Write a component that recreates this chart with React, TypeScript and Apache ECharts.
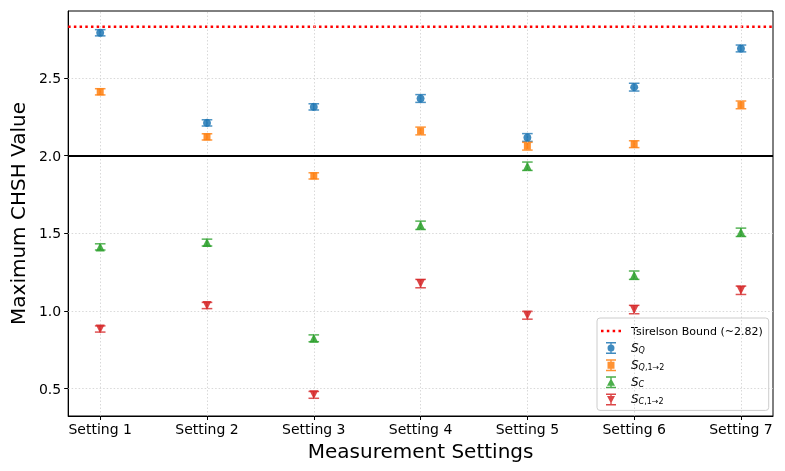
import React, { useEffect, useRef } from "react";
import * as echarts from "echarts";

const categories = ["Setting 1", "Setting 2", "Setting 3", "Setting 4", "Setting 5", "Setting 6", "Setting 7"];
const xTicks = [0, 1, 2, 3, 4, 5, 6];
const yTicks = [0.5, 1.0, 1.5, 2.0, 2.5];

const sQ = [2.79, 2.21, 2.313, 2.367, 2.116, 2.44, 2.689];
const sQErr = [0.02, 0.02, 0.02, 0.025, 0.025, 0.025, 0.022];
const sQ12 = [2.41, 2.12, 1.869, 2.158, 2.06, 2.073, 2.326];
const sQ12Err = [0.02, 0.02, 0.02, 0.025, 0.025, 0.022, 0.025];
const sC = [1.412, 1.44, 0.824, 1.551, 1.931, 1.23, 1.506];
const sCErr = [0.02, 0.022, 0.022, 0.027, 0.027, 0.027, 0.027];
const sC12 = [0.884, 1.035, 0.46, 1.176, 0.972, 1.009, 1.133];
const sC12Err = [0.02, 0.02, 0.022, 0.027, 0.025, 0.027, 0.027];

const tsirelson = 2.828;
const classicalBound = 2.0;

const seriesDefs = [
  { name: "S_Q", values: sQ, errs: sQErr, color: "#1f77b4", symbol: "circle", size: 8, rotate: 0, label: "{i|S}{si|Q}",
    icon: "path://M0,0H10V1.5H0Z M4.3,0H5.7V12H4.3Z M0,10.5H10V12H0Z M8.5,6A3.5,3.5 0 1 1 1.5,6A3.5,3.5 0 1 1 8.5,6Z" },
  { name: "S_{Q,1→2}", values: sQ12, errs: sQ12Err, color: "#ff7f0e", symbol: "rect", size: 7, rotate: 0, label: "{i|S}{si|Q}{s|,1→2}",
    icon: "path://M0,0H10V1.5H0Z M4.3,0H5.7V12H4.3Z M0,10.5H10V12H0Z M1.5,2.5H8.5V9.5H1.5Z" },
  { name: "S_C", values: sC, errs: sCErr, color: "#2ca02c", symbol: "triangle", size: 9, rotate: 0, label: "{i|S}{si|C}",
    icon: "path://M0,0H10V1.5H0Z M4.3,0H5.7V12H4.3Z M0,10.5H10V12H0Z M5,2L9,9.5H1Z" },
  { name: "S_{C,1→2}", values: sC12, errs: sC12Err, color: "#d62728", symbol: "triangle", size: 9, rotate: 180, label: "{i|S}{si|C}{s|,1→2}",
    icon: "path://M0,0H10V1.5H0Z M4.3,0H5.7V12H4.3Z M0,10.5H10V12H0Z M1,2.5H9L5,10Z" },
];

const dottedIcon = "path://M0,0H2.5V2.5H0Z M5.8,0H8.3V2.5H5.8Z M11.6,0H14.1V2.5H11.6Z M17.4,0H19.9V2.5H17.4Z";

export default function App() {
  const ref = useRef<HTMLDivElement>(null);
  useEffect(() => {
    if (!ref.current) return;
    const chart = echarts.init(ref.current, null, { renderer: "svg" });
    const labelMap: Record<string, string> = {};
    seriesDefs.forEach((d) => (labelMap[d.name] = d.label));

    const series: any[] = [];
    series.push({
      type: "line",
      name: "grid",
      data: [[0, 0.5]],
      showSymbol: false,
      symbol: "none",
      lineStyle: { width: 0, opacity: 0 },
      silent: true,
      z: 1,
      markLine: {
        silent: true,
        symbol: ["none", "none"],
        label: { show: false },
        animation: false,
        lineStyle: { type: [1.5, 2], color: "#cfcfcf", width: 0.8 },
        data: [
          ...xTicks.map((v) => ({ xAxis: v })),
          ...yTicks.map((v) => ({ yAxis: v })),
          { yAxis: classicalBound, lineStyle: { type: "solid", color: "#000", width: 2 } },
        ],
      },
    });
    series.push({
      type: "line",
      name: "Tsirelson Bound (~2.82)",
      data: [[-0.3, tsirelson], [6.3, tsirelson]],
      symbol: "none",
      showSymbol: false,
      z: 3,
      lineStyle: { color: "#ff0000", type: [2.5, 3.2], width: 2.5 },
      itemStyle: { color: "#ff0000" },
    });
    seriesDefs.forEach((d) => {
      series.push({
        type: "scatter",
        name: d.name,
        data: d.values.map((v, i) => [xTicks[i], v]),
        symbol: d.symbol,
        symbolSize: d.size,
        symbolRotate: d.rotate,
        itemStyle: { color: d.color, opacity: 0.85 },
        z: 5,
      });
      series.push({
        type: "custom",
        name: d.name + "-err",
        data: d.values.map((v, i) => [xTicks[i], v, d.errs[i]]),
        encode: { x: 0, y: 1 },
        z: 4,
        renderItem: (params: any, api: any) => {
          const x = api.value(0);
          const y = api.value(1);
          const e = api.value(2);
          const top = api.coord([x, y + e]);
          const bot = api.coord([x, y - e]);
          const cap = 5.3;
          const st = { stroke: d.color, lineWidth: 1.5, opacity: 0.8 };
          return {
            type: "group",
            children: [
              { type: "line", shape: { x1: top[0], y1: top[1], x2: bot[0], y2: bot[1] }, style: st },
              { type: "line", shape: { x1: top[0] - cap, y1: top[1], x2: top[0] + cap, y2: top[1] }, style: st },
              { type: "line", shape: { x1: bot[0] - cap, y1: bot[1], x2: bot[0] + cap, y2: bot[1] }, style: st },
            ],
          };
        },
      });
    });

    chart.setOption({
      animation: false,
      textStyle: { fontFamily: "DejaVu Sans" },
      grid: { left: 62, right: 12, top: 11, bottom: 55, show: true, borderColor: "#000", borderWidth: 1, containLabel: false },
      xAxis: {
        type: "value",
        min: -0.3,
        max: 6.3,
        axisLine: { show: true, onZero: false, lineStyle: { color: "#000", width: 1 } },
        axisTick: { show: true, customValues: xTicks, length: 4, lineStyle: { color: "#000" } },
        axisLabel: {
          customValues: xTicks,
          formatter: (v: number) => categories[Math.round(v)] ?? "",
          fontSize: 14,
          color: "#000",
          margin: 6,
        },
        splitLine: { show: false },
        name: "Measurement Settings",
        nameLocation: "middle",
        nameGap: 24,
        nameTextStyle: { fontSize: 20, color: "#000" },
      },
      yAxis: {
        type: "value",
        min: 0.324,
        max: 2.93,
        axisLine: { show: true, onZero: false, lineStyle: { color: "#000", width: 1 } },
        axisTick: { show: true, customValues: yTicks, length: 4, lineStyle: { color: "#000" } },
        axisLabel: {
          customValues: yTicks,
          formatter: (v: number) => v.toFixed(1),
          fontSize: 14,
          color: "#000",
          margin: 7,
        },
        splitLine: { show: false },
        name: "Maximum CHSH Value",
        nameLocation: "middle",
        nameGap: 39,
        nameTextStyle: { fontSize: 20, color: "#000" },
      },
      legend: {
        orient: "vertical",
        left: 597,
        top: 318,
        padding: [7, 6, 5, 4],
        itemWidth: 20,
        itemHeight: 12,
        itemGap: 4.1,
        backgroundColor: "rgba(255,255,255,0.85)",
        borderColor: "#cccccc",
        borderWidth: 1,
        borderRadius: 3,
        data: [
          { name: "Tsirelson Bound (~2.82)", icon: dottedIcon },
          ...seriesDefs.map((d) => ({ name: d.name, icon: d.icon })),
        ],
        formatter: (name: string) => labelMap[name] ?? name,
        textStyle: {
          fontSize: 11,
          color: "#000",
          lineHeight: 12,
          padding: [0, 0, 0, 5],
          rich: {
            i: { fontSize: 12, fontStyle: "italic", color: "#000", lineHeight: 12, verticalAlign: "bottom" },
            si: { fontSize: 8, fontStyle: "italic", color: "#000", lineHeight: 7, padding: [5, 0, 0, 0], verticalAlign: "bottom" },
            s: { fontSize: 8, color: "#000", lineHeight: 7, padding: [5, 0, 0, 0], verticalAlign: "bottom" },
          },
        },
      },
      series,
    });
    return () => chart.dispose();
  }, []);
  return <div ref={ref} style={{ position: "fixed", left: 0, top: 0, width: 785, height: 471 }} />;
}
